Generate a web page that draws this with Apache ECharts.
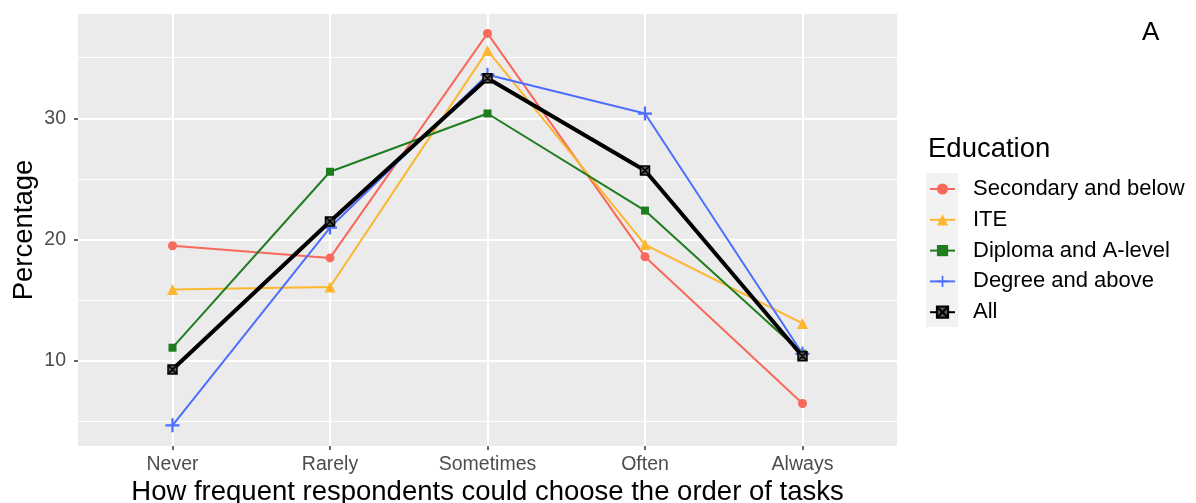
<!DOCTYPE html>
<html>
<head>
<meta charset="utf-8">
<script src="https://cdn.jsdelivr.net/npm/echarts@6/dist/echarts.min.js"></script>
<style>
html,body{margin:0;padding:0;background:#fff;}
#chart{width:1196px;height:503px;}
</style>
</head>
<body>
<div id="chart"></div>
<script>
const categories = ['Never', 'Rarely', 'Sometimes', 'Often', 'Always'];
const secondary = [19.5, 18.5, 37.0, 18.6, 6.5];
const ite = [15.9, 16.1, 35.6, 19.6, 13.1];
const diploma = [11.1, 25.6, 30.4, 22.4, 10.6];
const degree = [4.7, 21.0, 33.6, 30.4, 10.6];
const all = [9.3, 21.5, 33.3, 25.7, 10.4];
const yTicks = [10, 20, 30];
const yMinorTicks = [5, 15, 25, 35];
const xTicks = [0, 1, 2, 3, 4];

const FONT = '"Liberation Sans", Arial, Helvetica, sans-serif';
const chart = echarts.init(document.getElementById('chart'));

function pts(arr) { return arr.map((v, i) => [i, v]); }

const plusPath = 'path://M0,4.2H10V5.8H0Z M4.2,0H5.8V10H4.2Z';
const boxXPath = 'path://M0,0H10V10H0Z M0,0L10,10 M10,0L0,10';

const seriesDefs = [
  { name: 'Secondary and below', data: secondary, color: '#F8695C', symbol: 'circle', size: 9, width: 2 },
  { name: 'ITE', data: ite, color: '#FDB72F', symbol: 'triangle', size: 11, width: 2 },
  { name: 'Diploma and A-level', data: diploma, color: '#1F7D1F', symbol: 'rect', size: 8, width: 2 },
  { name: 'Degree and above', data: degree, color: '#4E6EFF', symbol: plusPath, size: 14, width: 2 },
  { name: 'All', data: all, color: '#000000', symbol: boxXPath, size: 9, width: 4 }
];

const series = seriesDefs.map(d => ({
  name: d.name,
  type: 'line',
  data: pts(d.data),
  symbol: d.symbol,
  symbolSize: d.size,
  showAllSymbol: true,
  lineStyle: { color: d.color, width: d.width },
  itemStyle: d.name === 'All'
    ? { color: '#555555', borderColor: '#000000', borderWidth: 1.5 }
    : { color: d.color, borderWidth: 0 },
  emphasis: { disabled: true },
  animation: false,
  z: d.name === 'All' ? 5 : 3
}));

const option = {
  animation: false,
  grid: { left: 78, right: 299, top: 14, bottom: 57, backgroundColor: '#EBEBEB', show: true, borderWidth: 0,
          containLabel: false, outerBoundsMode: 'none' },
  xAxis: {
    type: 'value', min: -0.6, max: 4.6,
    axisLine: { show: false, onZero: false },
    axisTick: { show: true, length: 4, lineStyle: { color: '#333333', width: 1.5 }, customValues: xTicks },
    axisLabel: { customValues: xTicks, formatter: v => categories[Math.round(v)], color: '#4D4D4D', fontSize: 19.5, fontFamily: FONT, margin: 9 },
    splitLine: { show: true, lineStyle: { color: '#FFFFFF', width: 2 } },
    name: 'How frequent respondents could choose the order of tasks',
    nameLocation: 'middle', nameGap: 32, nameMoveOverlap: false,
    nameTextStyle: { color: '#000000', fontSize: 27.5, fontFamily: FONT }
  },
  yAxis: [
    {
      type: 'value', min: 3.0, max: 38.6,
      axisLine: { show: false, onZero: false },
      axisTick: { show: true, length: 4, lineStyle: { color: '#333333', width: 1.5 }, customValues: yTicks },
      axisLabel: { customValues: yTicks, color: '#4D4D4D', fontSize: 19.5, fontFamily: FONT, margin: 12 },
      splitLine: { show: true, lineStyle: { color: '#FFFFFF', width: 2 } },
      name: 'Percentage', nameLocation: 'middle', nameGap: 40, nameMoveOverlap: false,
      nameTextStyle: { color: '#000000', fontSize: 27.5, fontFamily: FONT },
      z: 2
    },
    {
      type: 'value', min: 3.0, max: 38.6, position: 'left',
      axisLine: { show: false, onZero: false },
      axisTick: { show: false, customValues: yMinorTicks },
      axisLabel: { show: false, customValues: yMinorTicks },
      splitLine: { show: true, lineStyle: { color: '#FFFFFF', width: 1 } },
      z: 1
    }
  ],
  legend: {
    orient: 'vertical', left: 929, top: 178, padding: 0,
    itemWidth: 25, itemHeight: 14, itemGap: 8.8,
    textStyle: { fontSize: 22, fontFamily: FONT, color: '#000000', lineHeight: 22, padding: [0, 0, 0, 13] },
    data: seriesDefs.map(d => d.name),
    selectedMode: false
  },
  graphic: [
    { type: 'rect', left: 926, top: 173, shape: { width: 32, height: 154 }, style: { fill: '#F2F2F2' }, z: -1, silent: true },
    { type: 'text', left: 928, top: 135, style: { text: 'Education', fontSize: 27.5, fontFamily: FONT, fill: '#000000' } },
    { type: 'text', left: 1142, top: 20, style: { text: 'A', fontSize: 26, fontFamily: FONT, fill: '#000000' } }
  ],
  series: series
};
chart.setOption(option);
</script>
</body>
</html>
